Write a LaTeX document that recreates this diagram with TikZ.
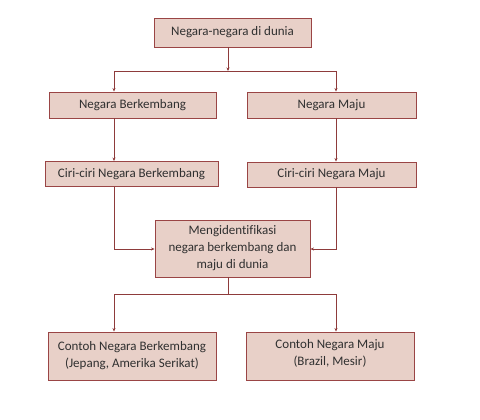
\documentclass[tikz,border=0pt]{standalone}
\usepackage{fontspec}
\setmainfont{Carlito}[Ligatures=NoCommon]
\usetikzlibrary{arrows.meta}
\definecolor{boxfill}{HTML}{E8D0C8}
\definecolor{boxline}{HTML}{9A4545}
\definecolor{lnk}{HTML}{8E3B3B}
\definecolor{txt}{HTML}{303030}
\begin{document}
\begin{tikzpicture}[x=1pt,y=-1pt,
  box/.style={draw=boxline, fill=boxfill, line width=0.9pt, rectangle, inner sep=0pt,
    text=txt, font=\fontsize{13}{17}\selectfont, align=center},
  link/.style={draw=lnk, line width=0.8pt, -{Stealth[length=3.5pt,width=3pt]}},
  plain/.style={draw=lnk, line width=0.8pt}]
\useasboundingbox (0,0) rectangle (480,420);
\node[box, minimum width=157pt, minimum height=29pt] (top) at (232.5,32.5) {Negara-negara di dunia};
\node[box, minimum width=167pt, minimum height=26pt] (nb) at (132.5,105) {Negara Berkembang};
\node[box, minimum width=169pt, minimum height=26pt] (nm) at (331.5,105) {Negara Maju};
\node[box, minimum width=173pt, minimum height=25pt] (cb) at (131.5,174) {Ciri-ciri Negara Berkembang};
\node[box, minimum width=169pt, minimum height=25pt] (cm) at (331.5,174.5) {Ciri-ciri Negara Maju};
\node[box, minimum width=155pt, minimum height=57pt] (mid) at (232.5,248.5) {Mengidentifikasi\\negara berkembang dan\\maju di dunia};
\node[box, minimum width=168pt, minimum height=48pt] (eb) at (132,356) {Contoh Negara Berkembang\\(Jepang, Amerika Serikat)};
\node[box, minimum width=168pt, minimum height=48pt] (em) at (330,356) {};
\node[text=txt, font=\fontsize{13}{17}\selectfont, align=center, inner sep=0pt] (emt) at ([yshift=3pt]em.center) {Contoh Negara Maju\\(Brazil, Mesir)};
\coordinate (j1) at (228,71);
\coordinate (j1l) at (114,71);
\coordinate (j1r) at (336,71);
\coordinate (j2l) at (114,249);
\coordinate (j2r) at (336,249);
\coordinate (j3) at (228,294);
\coordinate (j3l) at (114,294);
\coordinate (j3r) at (336,294);
\draw[link] (top.south -| j1) -- (j1);
\draw[plain] (j1l) -- (j1r);
\draw[link] (j1l) -- (nb.north -| j1l);
\draw[link] (j1r) -- (nm.north -| j1r);
\draw[link] (nb.south -| j1l) -- (cb.north -| j1l);
\draw[link] (nm.south -| j1r) -- (cm.north -| j1r);
\draw[link] (cb.south -| j2l) -- (j2l) -- (mid.west |- j2l);
\draw[link] (cm.south -| j2r) -- (j2r) -- (mid.east |- j2r);
\draw[plain] (mid.south -| j3) -- (j3);
\draw[plain] (j3l) -- (j3r);
\draw[link] (j3l) -- (eb.north -| j3l);
\draw[link] (j3r) -- (em.north -| j3r);
\end{tikzpicture}
\end{document}
